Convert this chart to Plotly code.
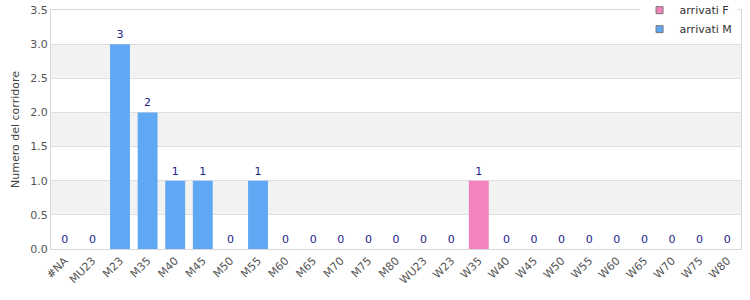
import plotly.graph_objects as go

categories = ["#NA", "MU23", "M23", "M35", "M40", "M45", "M50", "M55", "M60", "M65",
              "M70", "M75", "M80", "WU23", "W23", "W35", "W40", "W45", "W50", "W55",
              "W60", "W65", "W70", "W75", "W80"]
arrivati_F = [0, 0, 0, 0, 0, 0, 0, 0, 0, 0, 0, 0, 0, 0, 0, 1, 0, 0, 0, 0, 0, 0, 0, 0, 0]
arrivati_M = [0, 0, 3, 2, 1, 1, 0, 1, 0, 0, 0, 0, 0, 0, 0, 0, 0, 0, 0, 0, 0, 0, 0, 0, 0]
totals = [f + m for f, m in zip(arrivati_F, arrivati_M)]
y_ticks = [0.0, 0.5, 1.0, 1.5, 2.0, 2.5, 3.0, 3.5]

font_family = "DejaVu Sans, Verdana, sans-serif"
color_F = "#f283bd"
color_M = "#60a8f4"

fig = go.Figure()
fig.add_bar(x=categories, y=arrivati_F, name="arrivati F", marker_color=color_F,
            marker_line_width=0, width=0.72, showlegend=False, hoverinfo="skip")
fig.add_bar(x=categories, y=arrivati_M, name="arrivati M", marker_color=color_M,
            marker_line_width=0, width=0.72, showlegend=False, hoverinfo="skip")
# transparent totals bar carrying the value labels
fig.add_bar(x=categories, y=totals, text=[str(t) for t in totals],
            textposition="outside", cliponaxis=False, constraintext="none",
            marker_color="rgba(0,0,0,0)", marker_line_width=0, width=0.72,
            showlegend=False, hoverinfo="skip",
            outsidetextfont=dict(family=font_family, size=11, color="#22228a"))
# legend entries (small squares)
for name, col in [("arrivati F", color_F), ("arrivati M", color_M)]:
    fig.add_scatter(x=[None], y=[None], mode="markers", name=name,
                    marker=dict(symbol="square", size=7, color=col,
                                line=dict(color="#777", width=1)))

# alternating horizontal bands
for i in range(len(y_ticks) - 1):
    if i % 2 == 1:
        fig.add_shape(type="rect", xref="paper", yref="y", x0=0, x1=1,
                      y0=y_ticks[i], y1=y_ticks[i + 1], fillcolor="#f2f2f2",
                      line_width=0, layer="below")

fig.update_layout(
    width=750, height=300,
    margin=dict(l=51, r=9, t=10, b=51, autoexpand=False),
    barmode="overlay",
    uniformtext=dict(mode=False),
    plot_bgcolor="rgba(0,0,0,0)",
    paper_bgcolor="white",
    font=dict(family=font_family, size=11, color="#444"),
    legend=dict(x=0.995, xanchor="right", y=1.06, yanchor="top",
                bgcolor="white", font=dict(size=11, color="#333"),
                traceorder="normal", itemwidth=30, tracegroupgap=0),
    showlegend=True,
)
fig.update_xaxes(type="category", range=[-0.5, len(categories) - 0.5],
                 tickangle=-45, showgrid=False, showline=True,
                 linecolor="#d8d8d8", mirror=True, ticks="",
                 tickfont=dict(size=11, color="#555"), automargin=False)
fig.update_yaxes(range=[0, 3.5], tickvals=y_ticks, tickformat=".1f",
                 showgrid=True, gridcolor="#dedede", showline=True, linecolor="#d8d8d8",
                 mirror=True, zeroline=False, ticks="", automargin=False,
                 tickfont=dict(size=11, color="#555"),
                 title=dict(text="Numero del corridore", font=dict(size=11, color="#444"),
                            standoff=8))

fig.write_html("out.html")
